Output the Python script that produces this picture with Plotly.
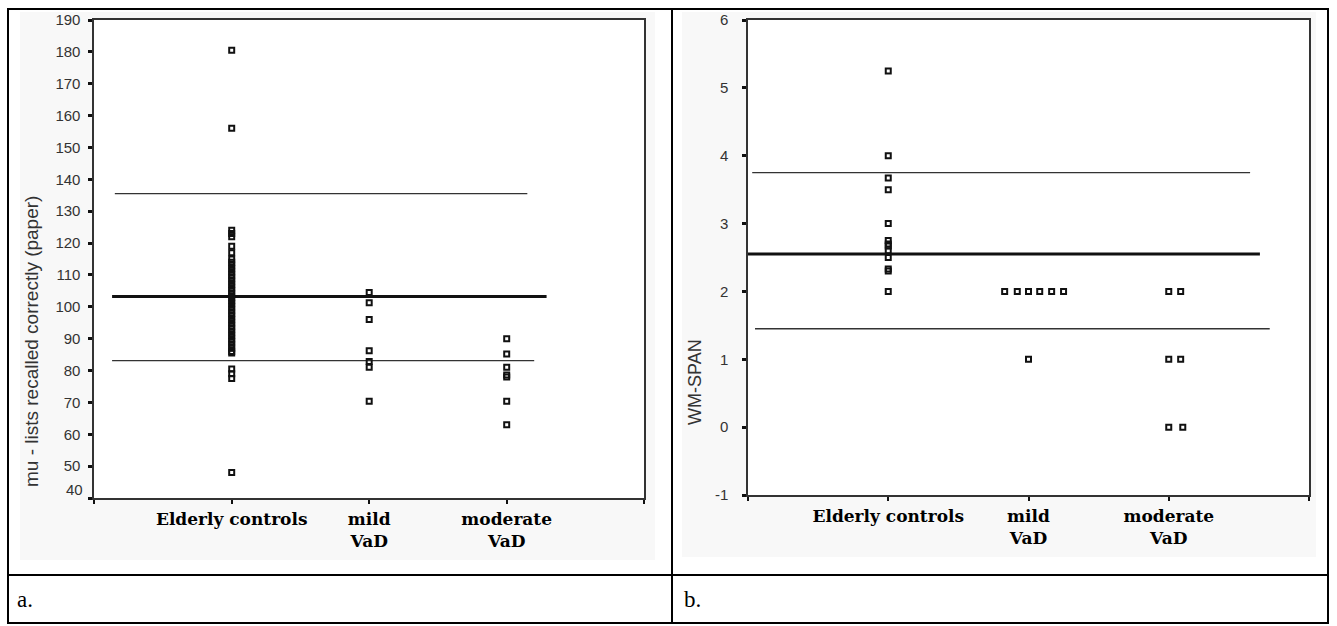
import plotly.graph_objects as go

# ---------------- data ----------------
categories = ["Elderly controls", "mild<br>VaD", "moderate<br>VaD"]

# panel a: mu - lists recalled correctly (paper)
elderly_mu = [180.5, 156, 124, 123, 122, 119, 117, 115, 114, 113, 112, 111, 110,
              109, 108, 107, 106, 105, 104, 103, 102, 101, 100, 99, 98, 97, 96,
              95, 94, 93, 92, 91, 90, 89, 88, 87, 86, 85.5, 80.5, 79, 77.5, 48]
mild_mu = [104.5, 101.3, 96, 86.2, 82.8, 81, 70.4]
moderate_mu = [90, 85.2, 81, 78.6, 78, 70.4, 63]
a_ticks = [40, 50, 60, 70, 80, 90, 100, 110, 120, 130, 140, 150, 160, 170, 180, 190]
a_ticktext = ["", "50", "60", "70", "80", "90", "100", "110", "120", "130", "140",
              "150", "160", "170", "180", "190"]
a_bottom_label = "40"
a_ref_values = [135.5, 103.2, 83.1]          # upper, mean, lower
a_ref_start = [0.15, 0.13, 0.13]
a_ref_end = [3.15, 3.29, 3.20]

# panel b: WM-SPAN
elderly_wm = [5.25, 4.0, 3.67, 3.5, 3.0, 2.75, 2.7, 2.67, 2.6, 2.5, 2.33, 2.3, 2.0]
mild_wm = [2, 2, 2, 2, 2, 2, 1]
mild_wm_jitter = [-0.17, -0.08, 0.0, 0.08, 0.165, 0.25, 0.0]
moderate_wm = [2, 2, 1, 1, 0, 0]
moderate_wm_jitter = [0.0, 0.085, 0.0, 0.085, 0.0, 0.1]
b_ticks = [-1, 0, 1, 2, 3, 4, 5, 6]
b_ticktext = ["-1", "0", "1", "2", "3", "4", "5", "6"]
b_ref_values = [3.75, 2.55, 1.45]
b_ref_start = [0.03, 0.0, 0.05]
b_ref_end = [3.58, 3.65, 3.72]

# ---------------- layout helpers ----------------
W, H = 1337, 626
def px(x):
    return x / W
def py(y):
    return 1 - y / H

marker = dict(symbol="square-open", size=5, color="#111111", line=dict(width=2, color="#111111"))
ref_widths = [1.3, 3, 1.3]
ref_colors = ["#333333", "#111111", "#333333"]

fig = go.Figure()

# panel a
xa = [1] * len(elderly_mu) + [2] * len(mild_mu) + [3] * len(moderate_mu)
ya = elderly_mu + mild_mu + moderate_mu
for v, s, e, w, c in zip(a_ref_values, a_ref_start, a_ref_end, ref_widths, ref_colors):
    fig.add_trace(go.Scatter(x=[s, e], y=[v, v], mode="lines", line=dict(color=c, width=w),
                             xaxis="x", yaxis="y", hoverinfo="skip"))
fig.add_trace(go.Scatter(x=xa, y=ya, mode="markers", marker=marker, xaxis="x", yaxis="y"))

# panel b
xb = [1] * len(elderly_wm) + [2 + j for j in mild_wm_jitter] + [3 + j for j in moderate_wm_jitter]
yb = elderly_wm + mild_wm + moderate_wm
for v, s, e, w, c in zip(b_ref_values, b_ref_start, b_ref_end, ref_widths, ref_colors):
    fig.add_trace(go.Scatter(x=[s, e], y=[v, v], mode="lines", line=dict(color=c, width=w),
                             xaxis="x2", yaxis="y2", hoverinfo="skip"))
fig.add_trace(go.Scatter(x=xb, y=yb, mode="markers", marker=marker, xaxis="x2", yaxis="y2"))

xtickfont = dict(family="DejaVu Serif", size=17, color="#000000", weight="bold")
ytickfont = dict(family="Liberation Sans", size=15, color="#333333")

common_x = dict(range=[0, 4], tickvals=[0, 1, 2, 3, 4], ticktext=[""] + categories + [""],
                showline=True, mirror=True, linecolor="#333333", linewidth=1.5,
                ticks="outside", ticklen=4, tickwidth=2, tickcolor="#111111",
                showgrid=False, zeroline=False, tickfont=xtickfont, ticklabelstandoff=1,
                fixedrange=True, automargin=False)
common_y = dict(showline=True, mirror=True, linecolor="#333333", linewidth=1.5,
                ticks="outside", ticklen=4, tickwidth=2.5, tickcolor="#111111",
                showgrid=False, zeroline=False, tickfont=ytickfont, fixedrange=True,
                automargin=False)

fig.update_layout(
    width=W, height=H, autosize=False,
    margin=dict(l=0, r=0, t=0, b=0, pad=0),
    paper_bgcolor="white", plot_bgcolor="white",
    showlegend=False,
    xaxis=dict(domain=[px(94.2), px(644.2)], anchor="y", **common_x),
    yaxis=dict(domain=[py(498), py(20)], anchor="x", range=[40, 190], tickvals=a_ticks,
               ticktext=a_ticktext, ticklabelstandoff=5, **common_y),
    xaxis2=dict(domain=[px(748), px(1309)], anchor="y2", **common_x),
    yaxis2=dict(domain=[py(495), py(20)], anchor="x2", range=[-1, 6], tickvals=b_ticks,
                ticktext=b_ticktext, ticklabelstandoff=11, **common_y),
)

shapes = []
shapes.append(dict(type="rect", xref="paper", yref="paper", x0=px(20), x1=px(655), y0=py(560), y1=py(12),
                   fillcolor="#f8f8f8", line=dict(width=0), layer="below"))
shapes.append(dict(type="rect", xref="paper", yref="paper", x0=px(682), x1=px(1316), y0=py(557), y1=py(12),
                   fillcolor="#f8f8f8", line=dict(width=0), layer="below"))
shapes.append(dict(type="rect", xref="paper", yref="paper", x0=px(94.2), x1=px(644.2), y0=py(498), y1=py(20),
                   fillcolor="white", line=dict(width=0), layer="below"))
shapes.append(dict(type="rect", xref="paper", yref="paper", x0=px(748), x1=px(1309), y0=py(495), y1=py(20),
                   fillcolor="white", line=dict(width=0), layer="below"))
border = dict(color="black", width=2)
shapes.append(dict(type="rect", xref="paper", yref="paper", x0=px(8), x1=px(1328), y0=py(623), y1=py(9),
                   line=border))
shapes.append(dict(type="line", xref="paper", yref="paper", x0=px(672), x1=px(672), y0=py(623), y1=py(9),
                   line=border))
shapes.append(dict(type="line", xref="paper", yref="paper", x0=px(8), x1=px(1328), y0=py(575), y1=py(575),
                   line=border))
fig.update_layout(shapes=shapes)

annotations = [
    dict(text="mu - lists recalled correctly (paper)", textangle=-90, xref="paper", yref="paper",
         x=px(31), y=py(342), xanchor="center", yanchor="middle", showarrow=False,
         font=dict(family="Liberation Sans", size=19, color="#333333")),
    dict(text="WM-SPAN", textangle=-90, xref="paper", yref="paper",
         x=px(695), y=py(382), xanchor="center", yanchor="middle", showarrow=False,
         font=dict(family="Liberation Sans", size=18, color="#333333")),
    dict(text=a_bottom_label, xref="paper", yref="y", x=px(85), y=a_ticks[0], yshift=9,
         xanchor="right", yanchor="middle", showarrow=False, font=ytickfont),
    dict(text="a.", xref="paper", yref="paper", x=px(15), y=py(599), xanchor="left", yanchor="middle",
         showarrow=False, font=dict(family="Liberation Serif", size=23, color="black")),
    dict(text="b.", xref="paper", yref="paper", x=px(682), y=py(599), xanchor="left", yanchor="middle",
         showarrow=False, font=dict(family="Liberation Serif", size=23, color="black")),
]
fig.update_layout(annotations=annotations)

fig.write_html("out.html", config={"displayModeBar": False},
               post_script="document.body.style.margin='0';")
